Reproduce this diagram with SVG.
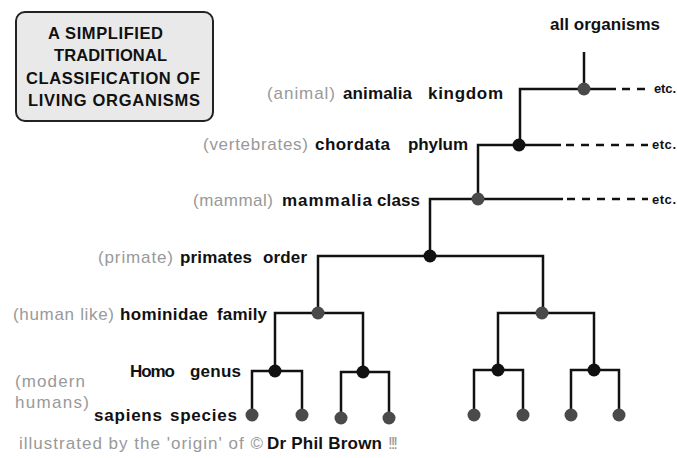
<svg xmlns="http://www.w3.org/2000/svg" width="677" height="458" viewBox="0 0 677 458">
<style>
text{font-family:"Liberation Sans",Arial,sans-serif;font-size:17px}
.b{font-weight:bold;fill:#111}
.g{fill:#999}
.t{font-weight:bold;fill:#111;font-size:16.5px}
.e{font-weight:bold;fill:#111;font-size:13px}
.ln{fill:none;stroke:#111;stroke-width:2.5}
.d{fill:none;stroke:#111;stroke-width:2.5;stroke-dasharray:8 7}
.ng{fill:#4a4a4a}
.nb{fill:#111}
</style>
<rect width="677" height="458" fill="#fff"/>
<g id="title">
<rect x="16" y="12" width="197" height="109" rx="9" fill="#e9e9e9" stroke="#222" stroke-width="2"/>
<text class="t" x="48" y="39" textLength="115" lengthAdjust="spacing">A SIMPLIFIED</text>
<text class="t" x="54" y="61" textLength="113" lengthAdjust="spacing">TRADITIONAL</text>
<text class="t" x="26" y="84" textLength="174" lengthAdjust="spacing">CLASSIFICATION OF</text>
<text class="t" x="28" y="106" textLength="172" lengthAdjust="spacing">LIVING ORGANISMS</text>
</g>
<g id="connectors">
<path class="ln" d="M584 52V89"/>
<path class="ln" d="M616 89H520V145"/>
<path class="d" d="M622 89H648"/>
<path class="ln" d="M561 145H478V199"/>
<path class="d" d="M566 145H648"/>
<path class="ln" d="M563 199H430V256"/>
<path class="d" d="M567 199H648"/>
<path class="ln" d="M318 313V256H543V313"/>
<path class="ln" d="M275 371V313H363V372"/>
<path class="ln" d="M498 370V313H594V370"/>
<path class="ln" d="M252 415V371H302V415"/>
<path class="ln" d="M341 418V372H389V418"/>
<path class="ln" d="M474 415V370H523V415"/>
<path class="ln" d="M571 415V370H619V415"/>
</g>
<g id="n-all"><circle class="ng" cx="584" cy="89" r="6.5"/><text class="b" x="550" y="30" textLength="110" lengthAdjust="spacing">all organisms</text><text class="e" x="654" y="93" textLength="22" lengthAdjust="spacing">etc.</text></g>
<g id="n-kingdom"><text class="g" x="267" y="99" textLength="68" lengthAdjust="spacing">(animal)</text><text class="b" y="99"><tspan x="343" textLength="69" lengthAdjust="spacing">animalia</tspan><tspan x="428" textLength="75" lengthAdjust="spacing">kingdom</tspan></text></g>
<g id="n-phylum"><circle class="nb" cx="519" cy="145" r="6.5"/><text class="g" x="203" y="150" textLength="105" lengthAdjust="spacing">(vertebrates)</text><text class="b" y="150"><tspan x="315" textLength="75" lengthAdjust="spacing">chordata</tspan><tspan x="408" textLength="60" lengthAdjust="spacing">phylum</tspan></text><text class="e" x="652" y="149" textLength="24" lengthAdjust="spacing">etc.</text></g>
<g id="n-class"><circle class="ng" cx="478" cy="199" r="6.5"/><text class="g" x="193" y="206" textLength="80" lengthAdjust="spacing">(mammal)</text><text class="b" y="206"><tspan x="282" textLength="90" lengthAdjust="spacing">mammalia</tspan><tspan x="377" textLength="43" lengthAdjust="spacing">class</tspan></text><text class="e" x="652" y="204" textLength="24" lengthAdjust="spacing">etc.</text></g>
<g id="n-order"><circle class="nb" cx="430" cy="256" r="6.5"/><text class="g" x="98" y="263" textLength="75" lengthAdjust="spacing">(primate)</text><text class="b" y="263"><tspan x="180" textLength="72" lengthAdjust="spacing">primates</tspan><tspan x="263" textLength="44" lengthAdjust="spacing">order</tspan></text></g>
<g id="n-family"><circle class="ng" cx="318" cy="313" r="6.5"/><text class="g" x="13" y="320" textLength="101" lengthAdjust="spacing">(human like)</text><text class="b" y="320"><tspan x="120" textLength="88" lengthAdjust="spacing">hominidae</tspan><tspan x="217" textLength="50" lengthAdjust="spacing">family</tspan></text></g>
<g id="n-family2"><circle class="ng" cx="542" cy="313" r="6.5"/></g>
<g id="n-genus"><circle class="nb" cx="275" cy="371" r="6.5"/><text class="b" y="377"><tspan x="130" textLength="45" lengthAdjust="spacing">Homo</tspan><tspan x="190" textLength="51" lengthAdjust="spacing">genus</tspan></text><text class="g" x="15" y="387" textLength="70" lengthAdjust="spacing">(modern</text><text class="g" x="15" y="408" textLength="74" lengthAdjust="spacing">humans)</text></g>
<g id="n-genus2"><circle class="nb" cx="363" cy="372" r="6.5"/></g>
<g id="n-genus3"><circle class="nb" cx="498" cy="370" r="6.5"/></g>
<g id="n-genus4"><circle class="nb" cx="594" cy="370" r="6.5"/></g>
<g id="n-species"><circle class="ng" cx="252" cy="415" r="6.5"/><text class="b" y="421"><tspan x="94" textLength="68" lengthAdjust="spacing">sapiens</tspan><tspan x="170" textLength="67" lengthAdjust="spacing">species</tspan></text></g>
<g id="n-leaf2"><circle class="ng" cx="302" cy="415" r="6.5"/></g>
<g id="n-leaf3"><circle class="ng" cx="341" cy="418" r="6.5"/></g>
<g id="n-leaf4"><circle class="ng" cx="389" cy="418" r="6.5"/></g>
<g id="n-leaf5"><circle class="ng" cx="474" cy="415" r="6.5"/></g>
<g id="n-leaf6"><circle class="ng" cx="523" cy="415" r="6.5"/></g>
<g id="n-leaf7"><circle class="ng" cx="571" cy="415" r="6.5"/></g>
<g id="n-leaf8"><circle class="ng" cx="619" cy="415" r="6.5"/></g>
<g id="credit"><text y="449"><tspan class="g" x="19" textLength="244" lengthAdjust="spacing">illustrated by the 'origin' of ©</tspan><tspan class="b" x="267" textLength="115" lengthAdjust="spacing">Dr Phil Brown</tspan><tspan class="g" x="388" textLength="10" lengthAdjust="spacing">!!!</tspan></text></g>
</svg>
